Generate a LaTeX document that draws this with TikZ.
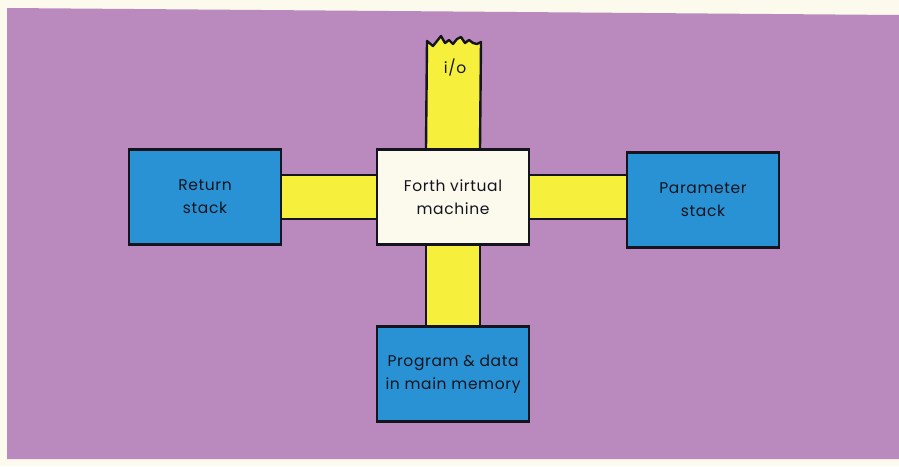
\documentclass[tikz,border=0pt]{standalone}
\usepackage{fontspec}
\setmainfont{Poppins}[LetterSpace=4]
\definecolor{bgpurple}{RGB}{186,138,190}
\definecolor{boxblue}{RGB}{40,146,212}
\definecolor{baryellow}{RGB}{246,240,60}
\definecolor{cream}{RGB}{252,250,236}
\definecolor{inkk}{RGB}{20,20,30}
\begin{document}
\begin{tikzpicture}[x=1pt,y=-1pt,
  blk/.style={draw=inkk,line width=2.6pt,fill=boxblue,minimum width=152pt,minimum height=95pt,
    align=center,font=\fontsize{15.5}{23}\selectfont,text=inkk,inner sep=0pt},
  fvmbox/.style={blk,fill=cream},
  barfill/.style={fill=baryellow},
  baredge/.style={draw=inkk,line width=2.4pt}]
\useasboundingbox (0,0) rectangle (899,466);
\fill[cream] (0,0) rectangle (899,466);
\fill[bgpurple] (7,8) -- (899,15) -- (899,459) -- (7,459) -- cycle;
% nodes
\node[blk] (ret) at (205,197) {Return\\stack};
\node[blk] (par) at (703,200) {Parameter\\stack};
\node[fvmbox] (fvm) at (453,197) {Forth virtual\\machine};
\node[blk] (mem) at (453,374) {Program \& data\\in main memory};
% bars
\fill[barfill] ([yshift=-22pt]ret.east) rectangle ([yshift=22pt]fvm.west);
\draw[baredge] ([yshift=-22pt]ret.east) -- ([yshift=-22pt]fvm.west);
\draw[baredge] ([yshift=22pt]ret.east) -- ([yshift=22pt]fvm.west);
\fill[barfill] ([yshift=-22pt]fvm.east) rectangle ([yshift=22pt]par.west|-fvm.east);
\draw[baredge] ([yshift=-22pt]fvm.east) -- ([yshift=-22pt]par.west|-fvm.east);
\draw[baredge] ([yshift=22pt]fvm.east) -- ([yshift=22pt]par.west|-fvm.east);
\fill[barfill] ([xshift=-27pt]fvm.south) rectangle ([xshift=27pt]mem.north);
\draw[baredge] ([xshift=-27pt]fvm.south) -- ([xshift=-27pt]mem.north);
\draw[baredge] ([xshift=27pt]fvm.south) -- ([xshift=27pt]mem.north);
% i/o bar with torn top
\path[barfill,draw=inkk,line width=2.4pt,line join=round]
  ([xshift=-27pt]fvm.north) -- (427,41) -- (433,46) -- (437,41) -- (441,36) -- (445,43) -- (449,40)
  -- (453,44) -- (457,39) -- (461,37) -- (465,43) -- (469,40) -- (473,43) -- (477,44) -- (481,42)
  -- ([xshift=27pt]fvm.north);
\node[font=\fontsize{15.5}{20}\selectfont,text=inkk] (io) at (455,68) {i/o};
% redraw boxes on top
\node[blk] at (ret) {Return\\stack};
\node[blk] at (par) {Parameter\\stack};
\node[fvmbox] at (fvm) {Forth virtual\\machine};
\node[blk] at (mem) {Program \& data\\in main memory};
\end{tikzpicture}
\end{document}
